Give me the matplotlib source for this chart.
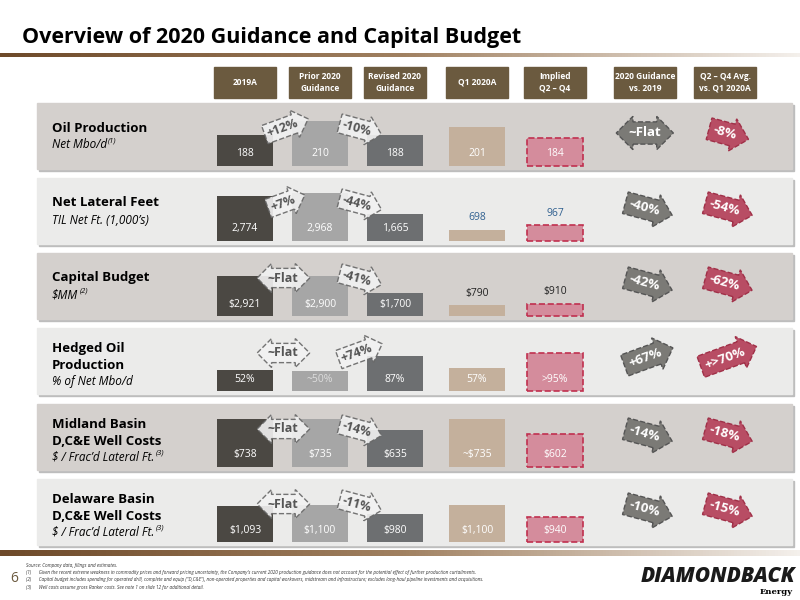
import matplotlib
matplotlib.use("Agg")
import matplotlib.pyplot as plt
import numpy as np
from matplotlib.patches import Rectangle
from matplotlib.colors import LinearSegmentedColormap

plt.rcParams['font.family'] = ['Open Sans', 'DejaVu Sans']

columns = ["2019A", "Prior 2020\nGuidance", "Revised 2020\nGuidance", "Q1 2020A", "Implied\nQ2 – Q4",
           "2020 Guidance\nvs. 2019", "Q2 – Q4 Avg.\nvs. Q1 2020A"]
row_titles = ["Oil Production", "Net Lateral Feet", "Capital Budget", "Hedged Oil\nProduction",
              "Midland Basin\nD,C&E Well Costs", "Delaware Basin\nD,C&E Well Costs"]
row_subs = ["Net Mbo/d", "TIL Net Ft. (1,000’s)", "$MM", "% of Net Mbo/d",
            "$ / Frac’d Lateral Ft.", "$ / Frac’d Lateral Ft."]
row_notes = ["(1)", "", "(2)", "", "(3)", "(3)"]
values = [
    [188, 210, 188, 201, 184],
    [2774, 2968, 1665, 698, 967],
    [2921, 2900, 1700, 790, 910],
    [52, 50, 87, 57, 95],
    [738, 735, 635, 735, 602],
    [1093, 1100, 980, 1100, 940],
]
value_labels = [
    ["188", "210", "188", "201", "184"],
    ["2,774", "2,968", "1,665", "698", "967"],
    ["$2,921", "$2,900", "$1,700", "$790", "$910"],
    ["52%", "~50%", "87%", "57%", ">95%"],
    ["$738", "$735", "$635", "~$735", "$602"],
    ["$1,093", "$1,100", "$980", "$1,100", "$940"],
]
change_prior = ["+12%", "+7%", "~Flat", "~Flat", "~Flat", "~Flat"]
change_revised = ["-10%", "-44%", "-41%", "+74%", "-14%", "-11%"]
vs_2019 = ["~Flat", "-40%", "-42%", "+67%", "-14%", "-10%"]
vs_q1 = ["-8%", "-54%", "-62%", "+>70%", "-18%", "-15%"]

# styling
floors = [140, 0, 0, 0, 300, 600]
maxh = [45, 48, 40, 38, 48, 37]
row_top = [103, 178, 253, 328, 404, 479]
row_h = 66
panel_cols = ['#d4d0cd', '#ebebea', '#d4d0cd', '#ebebea', '#d4d0cd', '#ebebea']
bar_x = [245, 320, 395, 477, 555]
col_x = bar_x + [645, 725]
bar_cols = ['#4b4843', '#a6a6a6', '#6d6f71', '#c4b09c', '#d48c9c']
outside = [[False]*5, [False, False, False, True, True], [False, False, False, True, True],
           [False]*5, [False]*5, [False]*5]

fig = plt.figure(figsize=(8, 6), dpi=100)
ax = fig.add_axes([0, 0, 1, 1])
ax.set_xlim(0, 800); ax.set_ylim(600, 0); ax.axis('off')
plt.rcParams['text.parse_math'] = False

ax.text(22, 37, "Overview of 2020 Guidance and Capital Budget", fontsize=15.5, fontweight='bold', va='center')
grad = np.linspace(0, 1, 256)[None, :]
cm = LinearSegmentedColormap.from_list('g', ['#6e4a2a', '#a08060', '#f4f0ec'])
ax.imshow(grad, extent=(0, 800, 57, 53), cmap=cm, aspect='auto', zorder=1)
ax.imshow(grad, extent=(0, 800, 556, 550), cmap=cm, aspect='auto', zorder=1)

for x, c in zip(col_x, columns):
    ax.add_patch(Rectangle((x-31, 67), 62, 31, color='#6b5a3f', zorder=2))
    ax.text(x, 82.5, c, color='white', fontsize=6, fontweight='bold', ha='center', va='center',
            linespacing=1.3, zorder=3)

for r in range(6):
    top = row_top[r]
    ax.add_patch(Rectangle((39, top+2), 755, row_h, color='#bdbdbd', zorder=1))
    ax.add_patch(Rectangle((37, top), 755, row_h, color=panel_cols[r], zorder=2))
    nl = row_titles[r].count('\n')
    if nl:
        ax.text(52, top + 29, row_titles[r], fontsize=9.5, fontweight='bold', va='center', linespacing=1.35, zorder=3)
        sy = top + 53
    else:
        ax.text(52, top + 25, row_titles[r], fontsize=9.5, fontweight='bold', va='center', zorder=3)
        sy = top + 42
    t = ax.text(52, sy, row_subs[r], fontsize=8.5, style='italic', va='center', zorder=3)
    if row_notes[r]:
        fig.canvas.draw()
        bb = t.get_window_extent()
        xe = ax.transData.inverted().transform((bb.x1, bb.y1))[0]
        ax.text(xe + 1, sy - 4, row_notes[r], fontsize=5.5, style='italic', va='center', zorder=3)
    base = top + row_h - 3
    vals = np.array(values[r], float)
    hts = (vals - floors[r]) / (vals.max() - floors[r]) * maxh[r]
    for i in range(5):
        ls = '--' if i == 4 else '-'
        ax.bar(bar_x[i], -hts[i], width=56, bottom=base, color=bar_cols[i],
               edgecolor='#c0304f' if i == 4 else 'none', linestyle=ls, linewidth=1.2, zorder=3)
        if outside[r][i]:
            col = '#2f5f8f' if r == 1 else '#222222'
            ax.text(bar_x[i], base - hts[i] - 12, value_labels[r][i], color=col, fontsize=7.5,
                    ha='center', va='center', zorder=4)
        else:
            col = '#dddddd' if (r == 3 and i == 1) else 'white'
            ax.text(bar_x[i], base - 12, value_labels[r][i], color=col, fontsize=7.5,
                    ha='center', va='center', zorder=4)
    for cx, lab in [(283, change_prior[r]), (357, change_revised[r])]:
        if lab.startswith('~'):
            style, rot = 'darrow,pad=0.25', 0
        else:
            style, rot = 'rarrow,pad=0.25', (20 if lab.startswith('+') else -15)
        ax.text(cx, top + 25, lab, fontsize=9, fontweight='bold', color='#555555', ha='center', va='center',
                rotation=rot, zorder=5,
                bbox=dict(boxstyle=style, fc='#f2f2f2', ec='#666666', ls='--', lw=1.0, alpha=0.9))
    for cx, lab, fc in [(645, vs_2019[r], '#7b7a76'), (725, vs_q1[r], '#b84d64')]:
        if lab.startswith('~'):
            style, rot = 'darrow,pad=0.35', 0
        else:
            style, rot = 'rarrow,pad=0.35', (20 if lab.startswith('+') else -15)
        ax.text(cx, top + 30, lab, fontsize=9.5, fontweight='bold', color='white', ha='center', va='center',
                rotation=rot, zorder=5,
                bbox=dict(boxstyle=style, fc=fc, ec='#555555' if fc == '#7b7a76' else '#a03048',
                          ls='--', lw=1.0))

notes = ["Source: Company data, filings and estimates.",
         "(1)      Given the recent extreme weakness in commodity prices and forward pricing uncertainty, the Company's current 2020 production guidance does not account for the potential effect of further production curtailments.",
         "(2)      Capital budget includes spending for operated drill, complete and equip (\"D,C&E\"), non-operated properties and capital workovers, midstream and infrastructure; excludes long-haul pipeline investments and acquisitions.",
         "(3)      Well costs assume gross Ranker costs. See note 1 on slide 12 for additional detail."]
for k, n in enumerate(notes):
    ax.text(26, 565 + 7.5*k, n, fontsize=3.3, style='italic', color='#333333', va='center')
ax.text(10, 578, "6", fontsize=10, color='#6b5a3f', va='center')
ax.text(795, 577, "DIAMONDBACK", fontsize=15, fontweight='black', style='italic', ha='right', va='center',
        color='#1a1a1a')
ax.text(793, 592, "Energy", fontsize=6, fontweight='bold', ha='right', va='center', family='DejaVu Serif')

fig.savefig("out.png", dpi=100)
